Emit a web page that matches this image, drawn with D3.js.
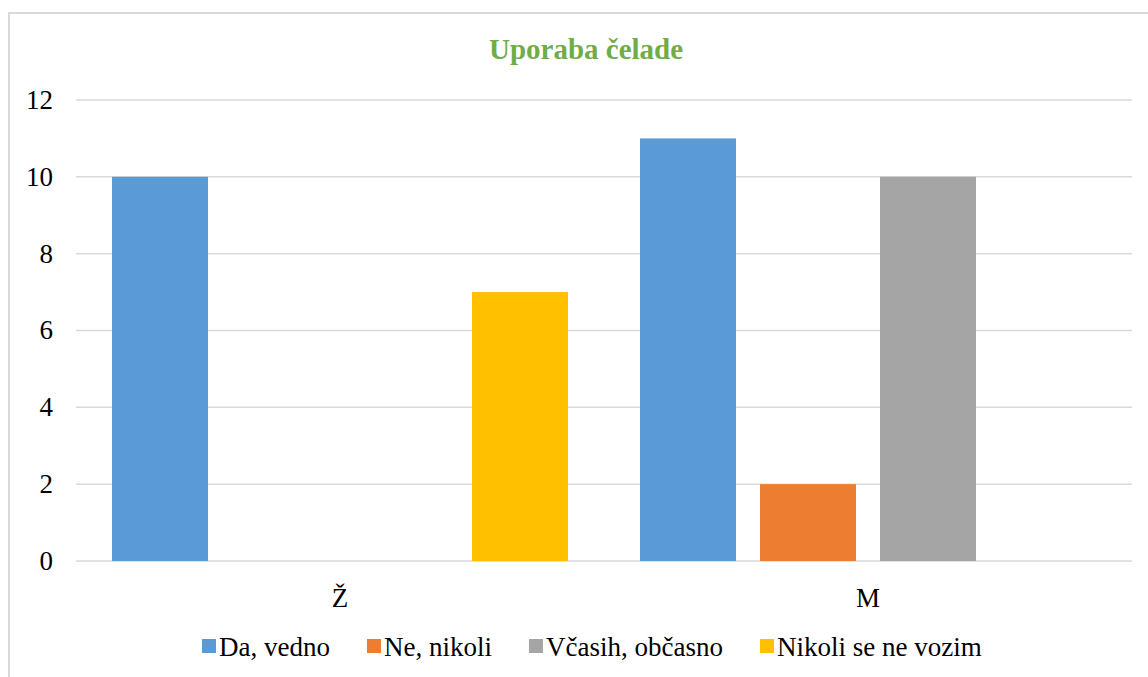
<!DOCTYPE html>
<html><head><meta charset="utf-8">
<script src="https://cdn.jsdelivr.net/npm/d3@7"></script>
<style>body{margin:0;background:#fff}svg{display:block}</style>
</head><body>
<svg id="c" width="1148" height="677"></svg>
<script>
const title = "Uporaba čelade";
const categories = ["Ž", "M"];
const seriesNames = ["Da, vedno", "Ne, nikoli", "Včasih, občasno", "Nikoli se ne vozim"];
const daVedno = [10, 11];
const neNikoli = [0, 2];
const vcasih = [0, 10];
const nikoliSeNeVozim = [7, 0];
const yTicks = [0, 2, 4, 6, 8, 10, 12];
const colors = ["#5b9bd5", "#ed7d31", "#a5a5a5", "#ffc000"];

const seriesValues = [daVedno, neNikoli, vcasih, nikoliSeNeVozim];
const font = "'Liberation Serif','Times New Roman',serif";
const svg = d3.select("#c");
const W = 1148, H = 677;

// chart border
svg.append("rect").attr("x", 9).attr("y", 13).attr("width", W + 20).attr("height", H + 20)
  .attr("fill", "none").attr("stroke", "#d9d9d9").attr("stroke-width", 2);

const m = {left: 76, right: 1132, top: 100, bottom: 561};
const y = d3.scaleLinear().domain([0, 12]).range([m.bottom, m.top]);
const x0 = d3.scaleBand().domain(categories).range([m.left, m.right]).paddingInner(0).paddingOuter(0);
const groupW = 456;
const x1 = d3.scaleBand().domain(seriesNames).range([0, groupW]).paddingInner(0.2).paddingOuter(0);

// gridlines
svg.append("g").selectAll("line").data(yTicks).join("line")
  .attr("x1", m.left).attr("x2", m.right)
  .attr("y1", d => y(d)).attr("y2", d => y(d))
  .attr("stroke", "#d9d9d9").attr("stroke-width", 1.5);

// y tick labels
svg.append("g").selectAll("text").data(yTicks).join("text")
  .attr("x", 53).attr("y", d => y(d)).attr("dy", "0.33em")
  .attr("text-anchor", "end").attr("font-family", font).attr("font-size", 27).attr("fill", "#000")
  .text(d => d);

// bars
const data = [];
categories.forEach((c, ci) => seriesNames.forEach((s, si) => data.push({c, s, si, v: seriesValues[si][ci]})));
svg.append("g").selectAll("rect").data(data.filter(d => d.v > 0)).join("rect")
  .attr("x", d => x0(d.c) + (x0.bandwidth() - groupW) / 2 + x1(d.s))
  .attr("width", x1.bandwidth())
  .attr("y", d => y(d.v)).attr("height", d => y(0) - y(d.v))
  .attr("fill", d => colors[d.si]);

// category labels
svg.append("g").selectAll("text").data(categories).join("text")
  .attr("x", d => x0(d) + x0.bandwidth() / 2).attr("y", 607)
  .attr("text-anchor", "middle").attr("font-family", font).attr("font-size", 27).attr("fill", "#000")
  .text(d => d);

// title
svg.append("text").attr("x", 586).attr("y", 59).attr("text-anchor", "middle")
  .attr("font-family", font).attr("font-size", 29).attr("font-weight", "bold").attr("fill", "#70ad47")
  .text(title);

// legend
const lg = svg.append("g");
const items = lg.selectAll("g").data(seriesNames).join("g");
items.append("rect").attr("width", 14).attr("height", 14).attr("y", -17).attr("fill", (d, i) => colors[i]);
items.append("text").attr("x", 17).attr("font-family", font).attr("font-size", 27).attr("fill", "#000").text(d => d);
let xx = 0;
const gap = 37;
items.each(function() {
  const w = this.getBBox().width;
  d3.select(this).attr("transform", `translate(${xx},656)`);
  xx += w + gap;
});
const total = xx - gap;
lg.attr("transform", `translate(${202},0)`);
</script>
</body></html>
